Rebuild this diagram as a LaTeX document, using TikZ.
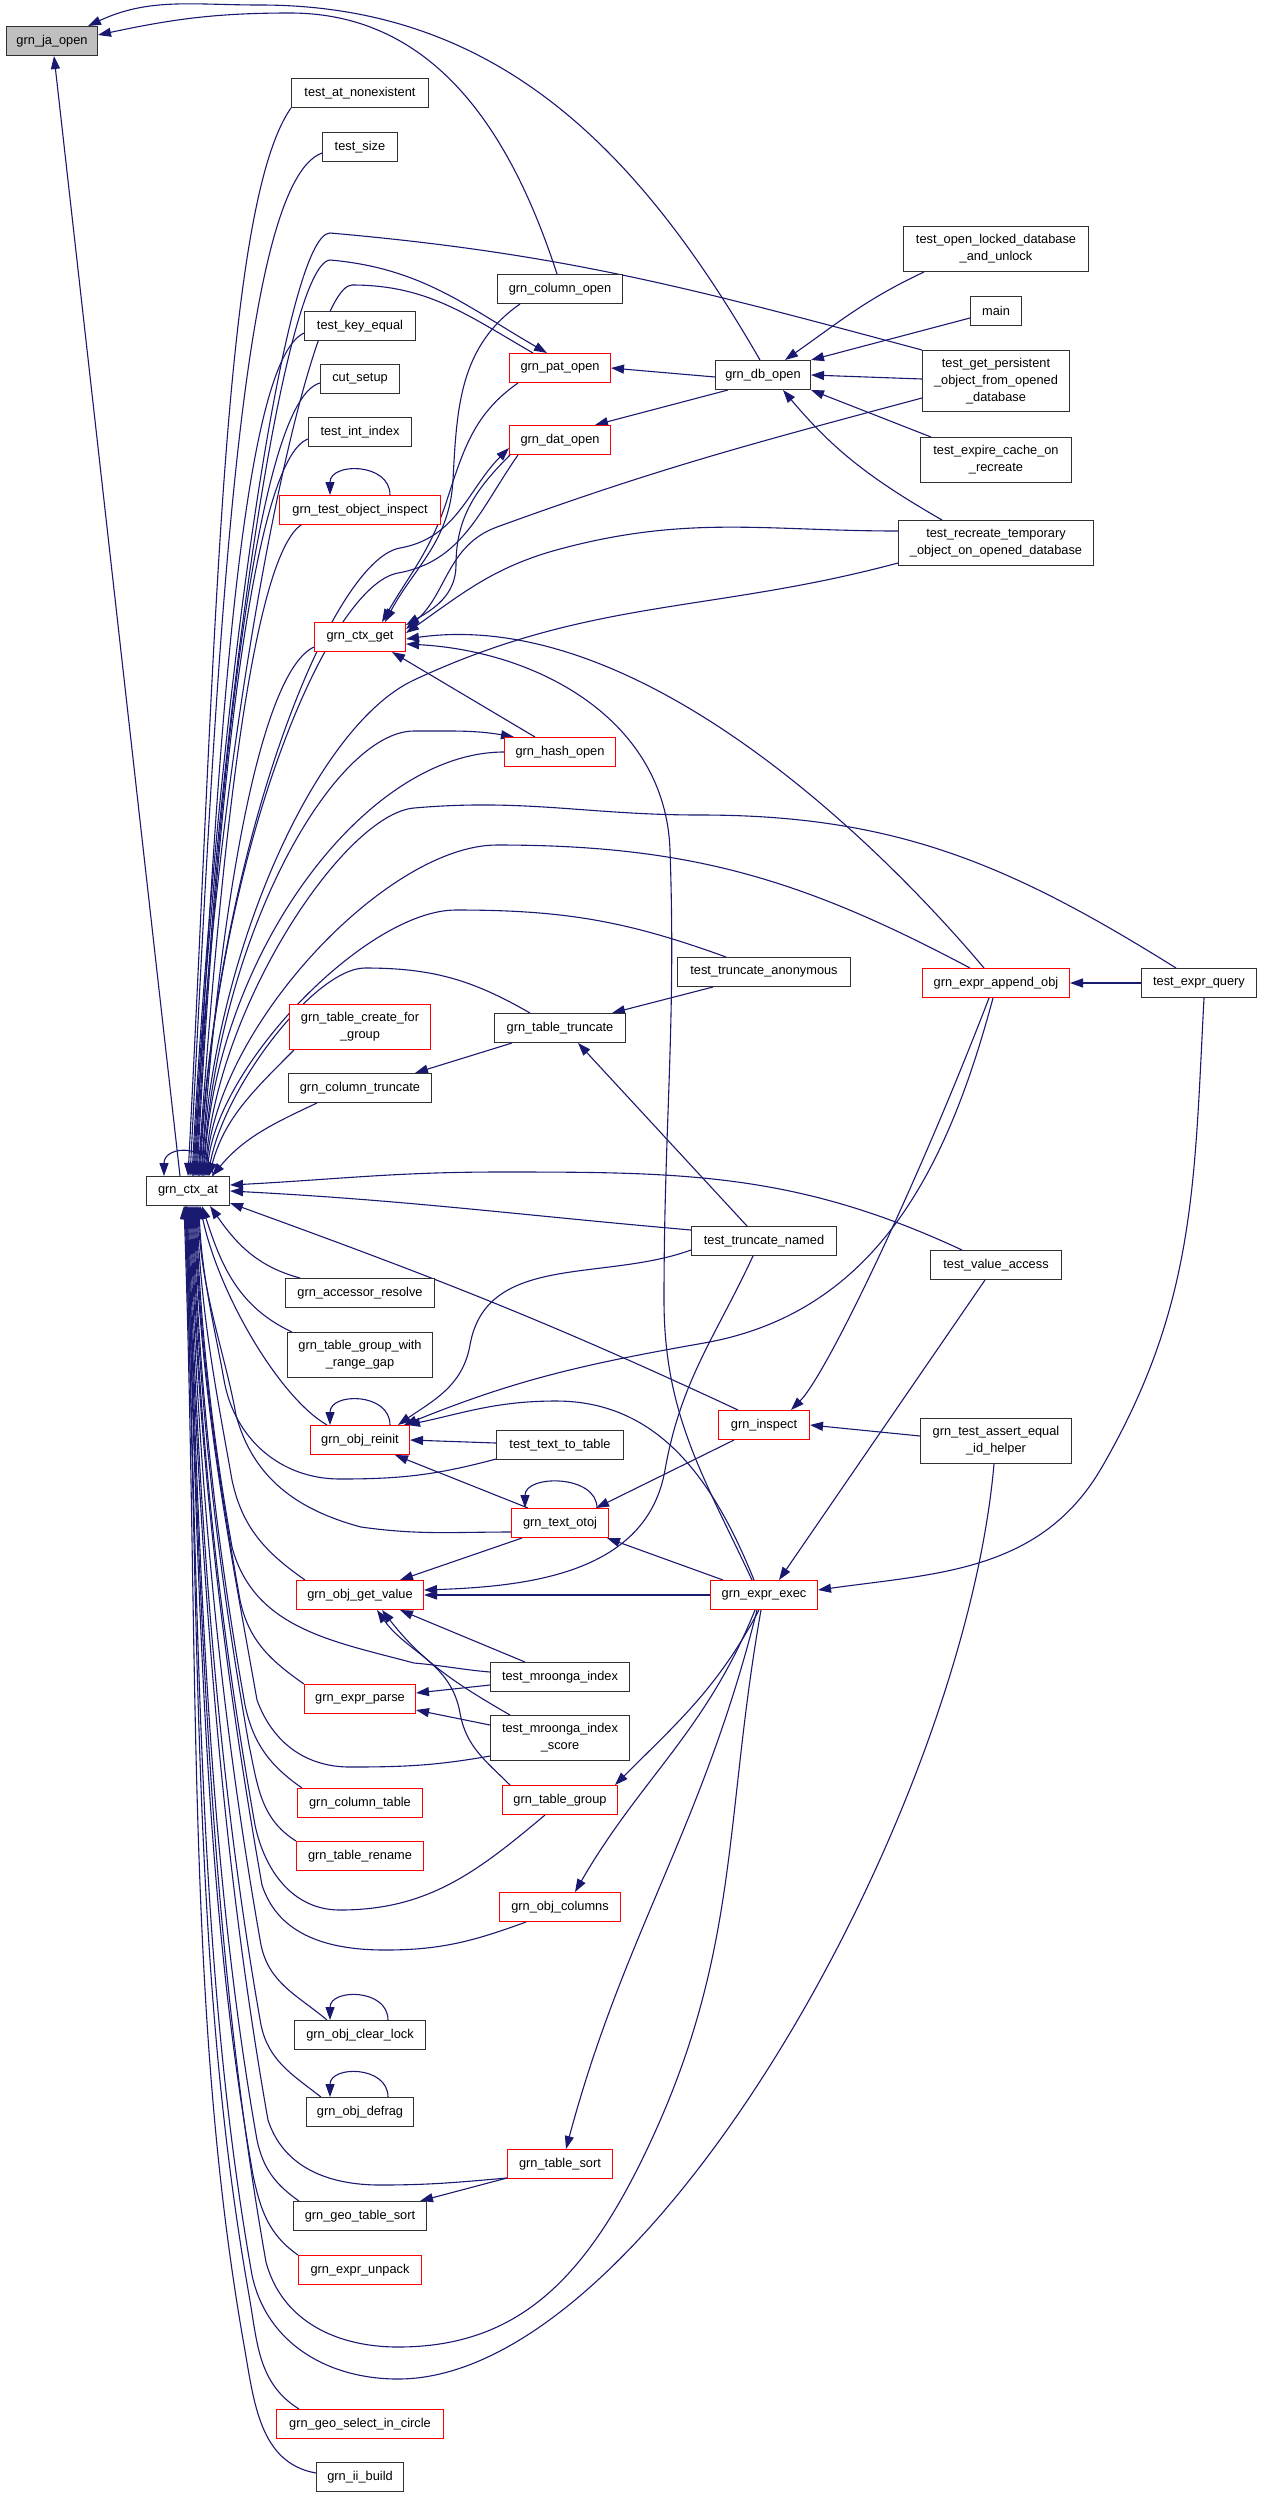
\documentclass[tikz,border=0pt]{standalone}
\usepackage{fontspec}
\setmainfont{Liberation Sans}
\usetikzlibrary{arrows.meta}
\definecolor{edgeblue}{HTML}{191970}
\definecolor{boxgray}{HTML}{303030}
\definecolor{boxred}{HTML}{FF0000}
\definecolor{rootgray}{HTML}{BFBFBF}
\pgfdeclarelayer{background}
\pgfsetlayers{background,main}

\begin{document}
\begin{tikzpicture}[x=1pt, y=1pt,
    fn/.style={draw=boxgray, fill=white, line width=1pt, inner xsep=8pt, inner ysep=6pt,
      minimum height=29pt, align=center, font=\fontsize{12.8}{17}\selectfont},
    redfn/.style={fn, draw=boxred},
    two/.style={minimum height=45pt},
    three/.style={minimum height=61pt},
    call/.style={draw=edgeblue, line width=1.1pt, >={Triangle[length=13pt,width=9pt]}, <-}]
  \useasboundingbox (0,0) rectangle (1261,-2498);

  % functions
  \node[fn, fill=rootgray, minimum width=91pt] (ja) at (52,-41) {grn\_ja\_open};
  \node[fn, minimum width=137pt] (atnon) at (360,-93) {test\_at\_nonexistent};
  \node[fn, minimum width=75pt] (tsize) at (360,-147) {test\_size};
  \node[fn, minimum width=125pt] (colopen) at (560,-289) {grn\_column\_open};
  \node[fn, minimum width=111pt] (keyeq) at (360,-326) {test\_key\_equal};
  \node[redfn, minimum width=101pt] (patopen) at (560,-368) {grn\_pat\_open};
  \node[fn, minimum width=79pt] (cutset) at (360,-379) {cut\_setup};
  \node[fn, minimum width=103pt] (intidx) at (360,-432) {test\_int\_index};
  \node[fn, minimum width=95pt] (dbopen) at (763,-375) {grn\_db\_open};
  \node[redfn, minimum width=101pt] (datopen) at (560,-440) {grn\_dat\_open};
  \node[redfn, minimum width=161pt] (objinsp) at (360,-510) {grn\_test\_object\_inspect};
  \node[fn, two, minimum width=185pt] (locked) at (996,-249) {test\_open\_locked\_database\\\_and\_unlock};
  \node[fn, minimum width=51pt] (mainf) at (996,-311) {main};
  \node[fn, three, minimum width=147pt] (persist) at (996,-381) {test\_get\_persistent\\\_object\_from\_opened\\\_database};
  \node[fn, two, minimum width=151pt] (expire) at (996,-460) {test\_expire\_cache\_on\\\_recreate};
  \node[fn, two, minimum width=195pt] (recreate) at (996,-543) {test\_recreate\_temporary\\\_object\_on\_opened\_database};
  \node[redfn, minimum width=91pt] (ctxget) at (360,-637) {grn\_ctx\_get};
  \node[redfn, minimum width=111pt] (hashopen) at (560,-752) {grn\_hash\_open};
  \node[fn, minimum width=173pt] (truncanon) at (764,-972) {test\_truncate\_anonymous};
  \node[redfn, minimum width=147pt] (appendobj) at (996,-983) {grn\_expr\_append\_obj};
  \node[fn, minimum width=115pt] (exprquery) at (1199,-983) {test\_expr\_query};
  \node[redfn, two, minimum width=141pt] (createfg) at (360,-1027) {grn\_table\_create\_for\\\_group};
  \node[fn, minimum width=131pt] (tabletrunc) at (560,-1028) {grn\_table\_truncate};
  \node[fn, minimum width=143pt] (coltrunc) at (360,-1088) {grn\_column\_truncate};
  \node[fn, minimum width=83pt] (ctxat) at (188,-1191) {grn\_ctx\_at};
  \node[fn, minimum width=145pt] (truncnamed) at (764,-1241) {test\_truncate\_named};
  \node[fn, minimum width=131pt] (valueacc) at (996,-1265) {test\_value\_access};
  \node[fn, minimum width=149pt] (accessor) at (360,-1293) {grn\_accessor\_resolve};
  \node[fn, two, minimum width=145pt] (rangegap) at (360,-1355) {grn\_table\_group\_with\\\_range\_gap};
  \node[redfn, minimum width=99pt] (reinit) at (360,-1440) {grn\_obj\_reinit};
  \node[fn, minimum width=127pt] (texttable) at (560,-1445) {test\_text\_to\_table};
  \node[redfn, minimum width=91pt] (inspect) at (764,-1425) {grn\_inspect};
  \node[fn, two, minimum width=151pt] (assertid) at (996,-1441) {grn\_test\_assert\_equal\\\_id\_helper};
  \node[redfn, minimum width=97pt] (otoj) at (560,-1523) {grn\_text\_otoj};
  \node[redfn, minimum width=127pt] (getvalue) at (360,-1595) {grn\_obj\_get\_value};
  \node[redfn, minimum width=107pt] (exprexec) at (764,-1595) {grn\_expr\_exec};
  \node[fn, minimum width=139pt] (mroonga) at (560,-1677) {test\_mroonga\_index};
  \node[redfn, minimum width=111pt] (exprparse) at (360,-1699) {grn\_expr\_parse};
  \node[fn, two, minimum width=139pt] (mroscore) at (560,-1738) {test\_mroonga\_index\\\_score};
  \node[redfn, minimum width=115pt] (tablegroup) at (560,-1800) {grn\_table\_group};
  \node[redfn, minimum width=125pt] (coltable) at (360,-1803) {grn\_column\_table};
  \node[redfn, minimum width=127pt] (tablerename) at (360,-1856) {grn\_table\_rename};
  \node[redfn, minimum width=121pt] (objcols) at (560,-1907) {grn\_obj\_columns};
  \node[fn, minimum width=131pt] (clearlock) at (360,-2035) {grn\_obj\_clear\_lock};
  \node[fn, minimum width=107pt] (defrag) at (360,-2112) {grn\_obj\_defrag};
  \node[redfn, minimum width=105pt] (tablesort) at (560,-2164) {grn\_table\_sort};
  \node[fn, minimum width=133pt] (geosort) at (360,-2216) {grn\_geo\_table\_sort};
  \node[redfn, minimum width=123pt] (exprunpack) at (360,-2270) {grn\_expr\_unpack};
  \node[redfn, minimum width=167pt] (geoselect) at (360,-2424) {grn\_geo\_select\_in\_circle};
  \node[fn, minimum width=87pt] (iibuild) at (360,-2477) {grn\_ii\_build};

  \begin{pgfonlayer}{background}
  % callers of grn_ja_open
  \draw[call] ([xshift=2pt]ja.south) -- ([xshift=-8pt]ctxat.north);
  \draw[call] ([yshift=6pt]ja.east) to[out=12,in=180] (290,-13) to[out=0,in=108] ([xshift=-3pt]colopen.north);
  \draw[call] ([xshift=-10pt]ja.north east) to[out=25,in=180] (260,-5) to[out=0,in=120] ([xshift=-3pt]dbopen.north);

  % callers of grn_db_open
  \draw[call] ([xshift=22pt]dbopen.north) to[out=35,in=205] ([xshift=-72pt]locked.south);
  \draw[call] (dbopen.north east) -- ([yshift=-7pt]mainf.west);
  \draw[call] (dbopen.east) -- ([yshift=2pt]persist.west);
  \draw[call] (dbopen.south east) -- ([xshift=-65pt]expire.north);
  \draw[call] ([xshift=20pt]dbopen.south) to[out=-50,in=150] ([xshift=-54pt]recreate.north);
  \draw[call] (patopen.east) -- ([yshift=-2pt]dbopen.west);
  \draw[call] ([xshift=35pt]datopen.north) -- ([xshift=-35pt]dbopen.south);

  % callers of grn_ctx_get
  \draw[call] ([xshift=25pt]ctxget.north) to[out=62,in=-93] (453,-480) to[out=87,in=215] ([xshift=-40pt]colopen.south);
  \draw[call] ([xshift=22pt]ctxget.north) to[out=60,in=-108] (447,-500) to[out=72,in=215] ([xshift=-42pt]patopen.south);
  \draw[call] ([yshift=12pt]ctxget.east) to[out=30,in=-90] (456,-565) to[out=90,in=225] ([xshift=-50pt]datopen.south);
  \draw[call] ([yshift=8pt]ctxget.east) to[out=40,in=200] (497,-527) to[out=20,in=195] ([yshift=-17pt]persist.west);
  \draw[call] ([yshift=4pt]ctxget.east) to[out=35,in=195] (560,-549) to[out=15,in=180] ([yshift=12pt]recreate.west);
  \draw[call] ([yshift=-2pt]ctxget.east) .. controls +(8:250pt) and +(130:120pt) .. ([xshift=-12pt]appendobj.north);
  \draw[call] ([yshift=-7pt]ctxget.east) to[out=-3,in=92] (670,-850) to[out=-88,in=90] (664,-1300) to[out=-90,in=115] ([xshift=-12pt]exprexec.north);
  \draw[call] ([xshift=32pt]ctxget.south) -- ([xshift=-25pt]hashopen.north);

  % callers of grn_ctx_at, above it
  \draw[call] ([xshift=-24pt]ctxat.north) to[out=90,in=90,looseness=1.67] ([xshift=25pt]ctxat.north);
  \draw[call] (ctxat.north) .. controls +(87:535pt) and +(235:120pt) .. (atnon.south west);
  \draw[call] ([xshift=2pt]ctxat.north) .. controls +(87:510pt) and +(200:90pt) .. ([yshift=-6pt]tsize.west);
  \draw[call] ([xshift=4pt]ctxat.north) .. controls +(87:480pt) and +(180:45pt) .. (330,-233) to[out=-5,in=165] (persist.north west);
  \draw[call] ([xshift=-13pt]patopen.north) to[out=150,in=-5] (330,-260) .. controls +(185:45pt) and +(87:470pt) .. ([xshift=5pt]ctxat.north);
  \draw[call] ([xshift=6pt]ctxat.north) .. controls +(87:450pt) and +(180:45pt) .. (352,-285) to[out=0,in=150] ([xshift=-27pt]patopen.north);
  \draw[call] ([xshift=7pt]ctxat.north) .. controls +(87:420pt) and +(205:70pt) .. ([yshift=-7pt]keyeq.west);
  \draw[call] ([xshift=8pt]ctxat.north) .. controls +(87:400pt) and +(195:65pt) .. ([yshift=-4pt]cutset.west);
  \draw[call] ([xshift=9pt]ctxat.north) .. controls +(87:370pt) and +(200:60pt) .. ([yshift=-7pt]intidx.west);
  \draw[call] ([xshift=10pt]ctxat.north) .. controls +(86:330pt) and +(215:60pt) .. ([xshift=22pt]objinsp.south west);
  \draw[call] ([yshift=-8pt]datopen.west) to[out=225,in=10] (400,-548) .. controls +(190:70pt) and +(87:330pt) .. ([xshift=11pt]ctxat.north);
  \draw[call] ([xshift=12pt]ctxat.north) .. controls +(87:330pt) and +(190:70pt) .. (398,-573) to[out=10,in=235] ([xshift=-42pt]datopen.south);
  \draw[call] ([xshift=13pt]ctxat.north) .. controls +(86:270pt) and +(205:60pt) .. ([yshift=-10pt]ctxget.west);
  \draw[call] ([xshift=14pt]ctxat.north) .. controls +(87:220pt) and +(205:110pt) .. (414,-680) to[out=25,in=195] ([yshift=-20pt]recreate.west);
  \draw[call] ([xshift=10pt]hashopen.north west) to[out=170,in=0] (414,-731) .. controls +(180:80pt) and +(87:240pt) .. ([xshift=15pt]ctxat.north);
  \draw[call] ([xshift=16pt]ctxat.north) .. controls +(87:220pt) and +(180:140pt) .. (hashopen.west);
  \draw[call] ([xshift=17pt]ctxat.north) .. controls +(86:170pt) and +(185:70pt) .. (414,-808) to[out=5,in=180] (700,-815) to[out=0,in=148] ([xshift=-23pt]exprquery.north);
  \draw[call] ([xshift=18pt]ctxat.north) .. controls +(86:150pt) and +(180:110pt) .. (497,-845) to[out=0,in=152] ([xshift=-26pt]appendobj.north);
  \draw[call] ([xshift=19pt]ctxat.north) .. controls +(85:110pt) and +(180:90pt) .. (456,-910) to[out=0,in=160] ([xshift=-38pt]truncanon.north);
  \draw[call] ([xshift=20pt]ctxat.north) .. controls +(80:90pt) and +(180:50pt) .. (365,-968) to[out=0,in=150] ([xshift=-30pt]tabletrunc.north);
  \draw[call] ([xshift=21pt]ctxat.north) to[out=75,in=225] ([xshift=5pt]createfg.south west);
  \draw[call] ([xshift=24pt]ctxat.north) to[out=50,in=205] ([xshift=29pt]coltrunc.south west);

  % callers of grn_ctx_at, right of and below it
  \draw[call] ([yshift=6pt]ctxat.east) to[out=3,in=180] (500,-1172) to[out=0,in=155] ([xshift=-34pt]valueacc.north);
  \draw[call] (ctxat.east) to[out=-3,in=175] ([yshift=11pt]truncnamed.west);
  \draw[call] ([yshift=3pt]ctxat.south east) to[out=-20,in=155] ([xshift=-26pt]inspect.north);
  \draw[call] ([xshift=22pt]ctxat.south) to[out=-55,in=165] ([xshift=15pt]accessor.north west);
  \draw[call] ([xshift=14pt]ctxat.south) to[out=-72,in=155] ([xshift=5pt]rangegap.north west);
  \draw[call] ([xshift=12pt]ctxat.south) .. controls +(-78:90pt) and +(150:55pt) .. ([xshift=17pt]reinit.north west);
  \draw[call] ([xshift=11pt]ctxat.south) .. controls +(-88:70pt) and +(100:50pt) .. (224,-1380) to[out=-80,in=180] (340,-1479) to[out=0,in=195] ([yshift=-14pt]texttable.west);
  \draw[call] ([xshift=10pt]ctxat.south) .. controls +(-88:85pt) and +(100:60pt) .. (236,-1415) to[out=-75,in=165] (361,-1527) to[out=-8,in=180] ([yshift=-9pt]otoj.west);
  \draw[call] ([xshift=9pt]ctxat.south) .. controls +(-88:110pt) and +(100:80pt) .. (232,-1480) to[out=-78,in=145] ([xshift=9pt]getvalue.north west);
  \draw[call] ([xshift=8pt]ctxat.south) .. controls +(-88:135pt) and +(100:100pt) .. (232,-1547) to[out=-75,in=165] (414,-1663) to[out=-5,in=175] ([yshift=5pt]mroonga.west);
  \draw[call] ([xshift=7pt]ctxat.south) .. controls +(-88:160pt) and +(100:120pt) .. (240,-1600) to[out=-78,in=145] (exprparse.north west);
  \draw[call] ([xshift=6pt]ctxat.south) .. controls +(-88:200pt) and +(100:150pt) .. (257,-1700) to[out=-70,in=180] (350,-1767) to[out=0,in=190] ([yshift=-18pt]mroscore.west);
  \draw[call] ([xshift=5pt]ctxat.south) .. controls +(-88:200pt) and +(100:150pt) .. (245,-1705) to[out=-78,in=145] ([xshift=5pt]coltable.north west);
  \draw[call] ([xshift=4pt]ctxat.south) .. controls +(-88:215pt) and +(100:160pt) .. (249,-1745) to[out=-78,in=148] (tablerename.north west);
  \draw[call] ([xshift=3pt]ctxat.south) .. controls +(-88:250pt) and +(100:185pt) .. (255,-1825) to[out=-78,in=180] (340,-1910) to[out=0,in=220] ([xshift=-15pt]tablegroup.south);
  \draw[call] ([xshift=2pt]ctxat.south) .. controls +(-88:270pt) and +(100:200pt) .. (262,-1885) to[out=-72,in=180] (385,-1950) to[out=0,in=200] ([xshift=-34pt]objcols.south);
  \draw[call] ([xshift=1pt]ctxat.south) .. controls +(-88:300pt) and +(100:220pt) .. (261,-1945) to[out=-78,in=140] ([xshift=33pt]clearlock.north west);
  \draw[call] (ctxat.south) .. controls +(-88:330pt) and +(100:240pt) .. (261,-2025) to[out=-78,in=142] ([xshift=15pt]defrag.north west);
  \draw[call] ([xshift=-1pt]ctxat.south) .. controls +(-88:360pt) and +(100:270pt) .. (268,-2120) to[out=-72,in=180] (380,-2185) to[out=0,in=185] ([yshift=-14pt]tablesort.west);
  \draw[call] ([xshift=-1pt]ctxat.south) .. controls +(-88:370pt) and +(100:280pt) .. (257,-2140) to[out=-78,in=145] ([xshift=6pt]geosort.north west);
  \draw[call] ([xshift=-2pt]ctxat.south) .. controls +(-88:380pt) and +(100:290pt) .. (253,-2175) to[out=-78,in=145] (exprunpack.north west);
  \draw[call] ([xshift=-2pt]ctxat.south) .. controls +(-88:420pt) and +(100:320pt) .. (266,-2262) to[out=-75,in=180] (398,-2347) .. controls +(0:120pt) and +(-115:150pt) .. (650,-2143) to[out=65,in=-100] ([xshift=-3pt]exprexec.south);
  \draw[call] ([xshift=-3pt]ctxat.south) .. controls +(-88:420pt) and +(100:320pt) .. (252,-2275) to[out=-78,in=180] (398,-2379) .. controls +(0:250pt) and +(-95:350pt) .. ([xshift=-2pt]assertid.south);
  \draw[call] ([xshift=-3pt]ctxat.south) .. controls +(-88:430pt) and +(100:330pt) .. (249,-2295) to[out=-80,in=148] ([xshift=23pt]geoselect.north west);
  \draw[call] ([xshift=-4pt]ctxat.south) .. controls +(-88:450pt) and +(100:340pt) .. (244,-2345) to[out=-80,in=170] ([yshift=4pt]iibuild.west);

  % middle of the graph
  \draw[call] ([xshift=-30pt]objinsp.north) to[out=90,in=90,looseness=1.4] ([xshift=30pt]objinsp.north);
  \draw[call] ([xshift=52pt]tabletrunc.north) -- ([xshift=-51pt]truncanon.south);
  \draw[call] ([xshift=18pt]tabletrunc.south) -- ([xshift=-17pt]truncnamed.north);
  \draw[call] ([xshift=55pt]coltrunc.north) -- ([xshift=-48pt]tabletrunc.south);
  \draw[call] (appendobj.east) -- (exprquery.west);
  \draw[call] ([yshift=5pt]exprexec.east) to[out=8,in=-120] (1102,-1467) to[out=60,in=-93] ([xshift=5pt]exprquery.south);
  \draw[call] ([xshift=15pt]exprexec.north) -- ([xshift=-11pt]valueacc.south);
  \draw[call] ([xshift=27pt]inspect.north) .. controls +(45:50pt) and +(-111:200pt) .. ([xshift=-7pt]appendobj.south);
  \draw[call] (inspect.east) -- ([yshift=5pt]assertid.west);
  \draw[call] ([xshift=-30pt]reinit.north) to[out=90,in=90,looseness=1.4] ([xshift=30pt]reinit.north);
  \draw[call] ([xshift=-6pt]reinit.north east) to[out=22,in=190] (704,-1343) to[out=10,in=-105] ([xshift=-3pt]appendobj.south);
  \draw[call] ([xshift=-3pt]reinit.north east) to[out=12,in=180] (556,-1401) to[out=0,in=112] ([xshift=-10pt]exprexec.north);
  \draw[call] ([xshift=-12pt]reinit.north east) to[out=35,in=-100] (470,-1345) to[out=80,in=200] ([yshift=-9pt]truncnamed.west);
  \draw[call] (reinit.east) -- ([yshift=2pt]texttable.west);
  \draw[call] ([xshift=35pt]reinit.south) -- ([xshift=-32pt]otoj.north);
  \draw[call] ([xshift=-35pt]otoj.north) to[out=90,in=90,looseness=1.2] ([xshift=37pt]otoj.north);
  \draw[call] ([xshift=36pt]otoj.north) -- ([xshift=-30pt]inspect.south);
  \draw[call] ([xshift=-2pt]otoj.south east) -- ([xshift=-41pt]exprexec.north);
  \draw[call] ([xshift=40pt]getvalue.north) -- ([xshift=-38pt]otoj.south);
  \draw[call] (getvalue.east) -- (exprexec.west);
  \draw[call] ([yshift=5pt]getvalue.east) to[out=2,in=-100] (665,-1470) to[out=80,in=-115] ([xshift=-11pt]truncnamed.south);
  \draw[call] ([xshift=40pt]getvalue.south) -- ([xshift=-35pt]mroonga.north);
  \draw[call] ([xshift=22pt]getvalue.south) to[out=-52,in=150] ([xshift=-50pt]mroscore.north);
  \draw[call] ([xshift=17pt]getvalue.south) to[out=-55,in=100] (460,-1713) to[out=-80,in=135] ([xshift=-50pt]tablegroup.north);
  \draw[call] ([yshift=6pt]exprparse.east) -- ([yshift=-8pt]mroonga.west);
  \draw[call] ([yshift=-11pt]exprparse.east) -- ([yshift=13pt]mroscore.west);
  \draw[call] ([xshift=-3pt]tablegroup.north east) to[out=45,in=-118] ([xshift=-5pt]exprexec.south);
  \draw[call] ([xshift=15pt]objcols.north) to[out=60,in=-112] ([xshift=-9pt]exprexec.south);
  \draw[call] ([xshift=6pt]tablesort.north) to[out=75,in=-104] ([xshift=-7pt]exprexec.south);
  \draw[call] ([xshift=60pt]geosort.north) -- ([yshift=-14pt]tablesort.west);
  \draw[call] ([xshift=-30pt]clearlock.north) to[out=90,in=90,looseness=1.4] ([xshift=28pt]clearlock.north);
  \draw[call] ([xshift=-30pt]defrag.north) to[out=90,in=90,looseness=1.4] ([xshift=28pt]defrag.north);
  \end{pgfonlayer}
\end{tikzpicture}
\end{document}
